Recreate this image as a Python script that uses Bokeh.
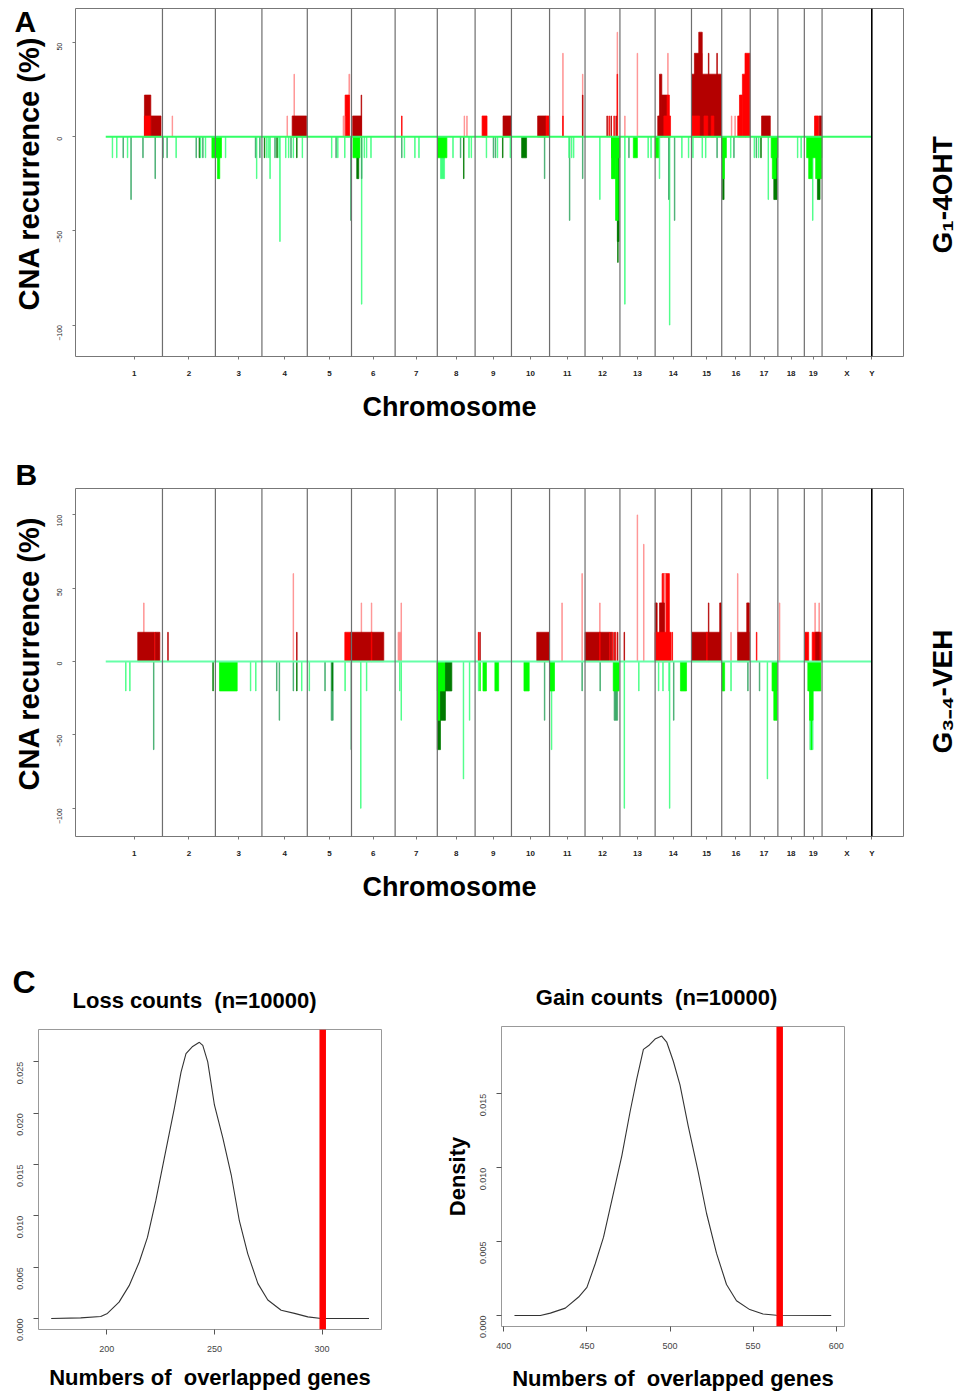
import math
from bokeh.plotting import figure
from bokeh.models import (FixedTicker, Span, Label, ColumnDataSource, Range1d,
                          NumeralTickFormatter, Title)
from bokeh.layouts import column, row
from bokeh.embed import file_html
from bokeh.resources import INLINE

# ---------------- data ----------------
CHROMS = ["1", "2", "3", "4", "5", "6", "7", "8", "9", "10", "11", "12", "13",
          "14", "15", "16", "17", "18", "19", "X", "Y"]
CHROM_LEN_MB = [195, 182, 160, 156, 152, 150, 145, 130, 125, 131, 122, 120, 121,
                125, 104, 98, 95, 91, 61, 171, 0.5]

# segments: (chrom, start Mb, end Mb, recurrence %, class)
A_GAINS = [
    ("1", 133, 155, 22.2, "D"), ("1", 133, 156, 11.1, "R"), ("1", 156, 190, 11.1, "D"),
    ("2", 33, 35, 11.1, "L"),
    ("4", 86, 88, 11.1, "L"), ("4", 110, 112, 33.3, "L"), ("4", 104, 154, 11.1, "D"),
    ("5", 123, 129, 11.1, "L"), ("5", 130, 145, 22.2, "R"), ("5", 143, 146, 33.3, "L"),
    ("6", 4, 34, 11.1, "D"), ("6", 33, 35, 22.2, "D"),
    ("7", 22, 24, 11.1, "R"),
    ("8", 92, 94, 11.1, "L"), ("8", 101, 103, 11.1, "L"),
    ("9", 24, 41, 11.1, "R"), ("9", 96, 124, 11.1, "D"),
    ("10", 90, 119, 11.1, "D"), ("10", 119, 131, 11.1, "R"),
    ("11", 45, 47, 44.4, "L"), ("11", 45, 47, 11.1, "R"), ("11", 113, 115, 33.3, "L"),
    ("11", 113, 115, 22.2, "D"),
    ("12", 75, 77, 11.1, "D"), ("12", 82, 84, 11.1, "R"), ("12", 89, 91, 11.1, "D"),
    ("12", 99, 101, 11.1, "R"), ("12", 106, 108, 11.1, "D"), ("12", 110, 112, 55.6, "L"),
    ("12", 110, 112, 33.3, "R"),
    ("13", 16, 18, 11.1, "L"), ("13", 59, 61, 44.4, "L"),
    ("14", 9, 26, 11.1, "D"), ("14", 15, 23, 33.3, "D"), ("14", 21, 41, 22.2, "D"),
    ("14", 30, 53, 11.1, "R"), ("14", 41, 49, 22.2, "R"), ("14", 43, 45, 44.4, "L"),
    ("15", 1, 103, 33.3, "D"), ("15", 10, 36, 44.4, "D"), ("15", 25, 37, 55.6, "D"),
    ("15", 58, 60, 44.4, "D"), ("15", 87, 89, 44.4, "D"), ("15", 1, 28, 11.1, "R"),
    ("15", 43, 56, 11.1, "R"), ("15", 68, 77, 11.1, "R"),
    ("16", 33, 35, 11.1, "L"), ("16", 45, 47, 11.1, "L"), ("16", 55, 63, 11.1, "R"),
    ("16", 61, 71, 22.2, "R"), ("16", 71, 83, 33.3, "R"), ("16", 80, 97, 44.4, "R"),
    ("17", 39, 69, 11.1, "D"),
    ("19", 35, 49, 11.1, "R"), ("19", 51, 60, 11.1, "D"),
]
A_LOSSES = [
    ("1", 22, 24, -11.1, "S"), ("1", 37, 39, -11.1, "S"), ("1", 59, 61, -11.1, "M"),
    ("1", 74, 76, -11.1, "S"), ("1", 86, 88, -33.3, "M"), ("1", 127, 129, -11.1, "M"),
    ("1", 169, 171, -22.2, "M"),
    ("2", 1, 3, -11.1, "M"), ("2", 15, 17, -11.1, "M"), ("2", 46, 48, -11.1, "S"),
    ("2", 115, 117, -11.1, "M"), ("2", 126, 128, -11.1, "K"), ("2", 130, 132, -11.1, "S"),
    ("2", 138, 140, -11.1, "M"), ("2", 147, 149, -11.1, "S"), ("2", 170, 182, -11.1, "G"),
    ("3", 0, 21, -11.1, "G"), ("3", 7, 15, -22.2, "G"), ("3", 34, 36, -11.1, "S"),
    ("3", 137, 139, -11.1, "M"), ("3", 141, 143, -22.2, "S"), ("3", 152, 154, -11.1, "M"),
    ("4", 8, 10, -11.1, "K"), ("4", 16, 18, -11.1, "S"), ("4", 23, 25, -11.1, "S"),
    ("4", 27, 29, -22.2, "S"), ("4", 44, 46, -11.1, "M"), ("4", 51, 53, -11.1, "K"),
    ("4", 58, 60, -11.1, "S"), ("4", 61, 63, -55.6, "S"), ("4", 81, 83, -11.1, "S"),
    ("4", 91, 93, -11.1, "S"), ("4", 99, 101, -11.1, "M"), ("4", 107, 109, -11.1, "S"),
    ("4", 119, 121, -11.1, "K"), ("4", 138, 140, -11.1, "S"),
    ("5", 83, 85, -11.1, "S"), ("5", 98, 100, -11.1, "M"), ("5", 104, 106, -11.1, "S"),
    ("5", 128, 130, -11.1, "S"), ("5", 149, 151, -44.4, "M"),
    ("6", 5, 29, -11.1, "G"), ("6", 18, 25, -22.2, "K"), ("6", 34, 36, -88.9, "S"),
    ("6", 34, 36, -22.2, "M"), ("6", 43, 45, -11.1, "S"), ("6", 51, 53, -11.1, "S"),
    ("6", 66, 68, -11.1, "S"),
    ("7", 22, 24, -11.1, "M"), ("7", 31, 33, -11.1, "S"), ("7", 67, 69, -11.1, "S"),
    ("7", 81, 83, -11.1, "S"),
    ("8", 1, 33, -11.1, "G"), ("8", 11, 25, -22.2, "S"), ("8", 53, 55, -11.1, "S"),
    ("8", 79, 81, -11.1, "M"), ("8", 90, 92, -22.2, "K"), ("8", 108, 110, -11.1, "S"),
    ("8", 116, 118, -11.1, "S"),
    ("9", 38, 40, -11.1, "S"), ("9", 62, 64, -11.1, "M"), ("9", 69, 71, -11.1, "M"),
    ("9", 76, 78, -11.1, "S"), ("9", 94, 96, -11.1, "K"), ("9", 120, 122, -11.1, "S"),
    ("10", 35, 52, -11.1, "K"), ("10", 113, 115, -22.2, "M"),
    ("11", 66, 68, -11.1, "S"), ("11", 75, 77, -11.1, "S"), ("11", 82, 84, -11.1, "S"),
    ("11", 68, 70, -44.4, "M"), ("11", 113, 115, -22.2, "M"),
    ("12", 50, 52, -33.3, "S"), ("12", 93, 95, -22.2, "S"), ("12", 91, 120, -11.1, "G"),
    ("12", 91, 105, -22.2, "G"), ("12", 105, 114, -44.4, "G"), ("12", 111, 117, -55.6, "K"),
    ("12", 112, 114, -66.7, "K"),
    ("13", 16, 18, -88.9, "S"), ("13", 30, 32, -11.1, "M"), ("13", 46, 60, -11.1, "G"),
    ("13", 96, 98, -11.1, "S"), ("13", 106, 108, -11.1, "S"),
    ("14", 0, 12, -11.1, "G"), ("14", 14, 16, -22.2, "S"), ("14", 46, 48, -33.3, "M"),
    ("14", 49, 51, -100.0, "S"), ("14", 66, 68, -44.4, "M"), ("14", 91, 93, -11.1, "S"),
    ("14", 114, 116, -11.1, "S"),
    ("15", 4, 6, -11.1, "S"), ("15", 36, 38, -11.1, "S"), ("15", 48, 50, -11.1, "S"),
    ("15", 87, 89, -11.1, "M"),
    ("16", 0, 16, -11.1, "G"), ("16", 2, 9, -22.2, "G"), ("16", 3, 8, -33.3, "K"),
    ("16", 30, 32, -11.1, "S"), ("16", 41, 43, -11.1, "M"),
    ("17", 13, 15, -11.1, "S"), ("17", 20, 22, -11.1, "M"), ("17", 28, 30, -11.1, "S"),
    ("17", 36, 38, -11.1, "K"), ("17", 61, 63, -33.3, "S"), ("17", 72, 95, -11.1, "G"),
    ("17", 76, 89, -22.2, "G"), ("17", 81, 92, -33.3, "K"),
    ("18", 67, 69, -11.1, "S"), ("18", 79, 81, -11.1, "S"),
    ("19", 8, 60, -11.1, "G"), ("19", 15, 27, -22.2, "G"), ("19", 28, 30, -44.4, "S"),
    ("19", 39, 60, -22.2, "G"), ("19", 45, 54, -33.3, "K"),
]
B_GAINS = [
    ("1", 110, 167, 20, "D"), ("1", 130, 132, 40, "L"), ("1", 168, 170, 20, "R"),
    ("1", 170, 186, 20, "D"),
    ("2", 18, 20, 20, "D"),
    ("4", 107, 109, 60, "L"), ("4", 119, 121, 20, "D"),
    ("5", 129, 149, 20, "R"), ("5", 149, 152, 20, "D"),
    ("6", 0, 111, 20, "D"), ("6", 68, 70, 20, "R"), ("6", 33, 35, 40, "L"), ("6", 68, 70, 40, "L"),
    ("7", 10, 21, 20, "L"), ("7", 20, 22, 40, "L"),
    ("9", 11, 13, 20, "R"), ("9", 16, 18, 20, "D"),
    ("10", 87, 129, 20, "D"),
    ("11", 42, 44, 40, "L"), ("11", 111, 113, 60, "L"),
    ("12", 0, 85, 20, "D"), ("12", 50, 52, 40, "L"), ("12", 50, 52, 20, "R"),
    ("12", 85, 87, 20, "R"), ("12", 88, 92, 20, "D"), ("12", 94, 96, 20, "R"),
    ("12", 99, 101, 20, "D"), ("12", 104, 106, 20, "R"), ("12", 111, 113, 20, "D"),
    ("13", 14, 16, 20, "D"), ("13", 59, 61, 100, "L"), ("13", 81, 83, 80, "L"),
    ("14", 0, 55, 20, "R"), ("14", 0, 7, 40, "D"), ("14", 15, 32, 40, "D"),
    ("14", 24, 49, 60, "R"), ("14", 31, 36, 60, "L"), ("14", 58, 60, 20, "R"),
    ("15", 1, 103, 20, "D"), ("15", 52, 54, 20, "R"), ("15", 58, 60, 40, "D"),
    ("15", 97, 103, 40, "D"),
    ("16", 31, 33, 20, "L"), ("16", 54, 56, 60, "L"), ("16", 55, 95, 20, "D"),
    ("16", 86, 95, 40, "D"),
    ("17", 21, 23, 20, "R"),
    ("18", 5, 7, 40, "L"),
    ("19", 2, 15, 20, "R"), ("19", 27, 60, 20, "R"), ("19", 39, 51, 20, "D"),
    ("19", 36, 38, 40, "L"), ("19", 50, 52, 40, "L"),
]
B_LOSSES = [
    ("1", 68, 70, -20, "S"), ("1", 82, 84, -20, "S"), ("1", 164, 166, -60, "M"),
    ("2", 173, 175, -20, "K"),
    ("3", 14, 75, -20, "G"), ("3", 120, 122, -20, "S"), ("3", 138, 140, -20, "S"),
    ("4", 50, 52, -20, "M"), ("4", 59, 61, -40, "M"), ("4", 107, 109, -20, "M"),
    ("4", 119, 121, -20, "K"), ("4", 136, 138, -20, "S"),
    ("5", 6, 8, -20, "S"), ("5", 60, 62, -20, "M"), ("5", 82, 89, -40, "M"),
    ("5", 85, 87, -20, "K"), ("5", 129, 131, -20, "S"), ("5", 150, 152, -60, "M"),
    ("6", 31, 33, -100, "S"), ("6", 51, 53, -20, "S"),
    ("7", 15, 17, -20, "S"), ("7", 20, 22, -40, "S"),
    ("8", 0, 11, -60, "K"), ("8", 0, 11, -40, "G"), ("8", 11, 28, -40, "K"),
    ("8", 0, 28, -20, "G"), ("8", 28, 50, -20, "K"), ("8", 89, 91, -80, "S"),
    ("8", 110, 112, -40, "S"),
    ("9", 11, 13, -20, "S"), ("9", 16, 18, -20, "G"), ("9", 27, 39, -20, "G"),
    ("9", 68, 81, -20, "G"),
    ("10", 43, 61, -20, "G"), ("10", 113, 115, -40, "M"),
    ("11", 0, 17, -20, "G"), ("11", 6, 8, -60, "S"), ("11", 111, 113, -20, "M"),
    ("12", 51, 53, -20, "M"), ("12", 97, 117, -20, "G"), ("12", 100, 112, -40, "M"),
    ("13", 14, 16, -100, "S"), ("13", 64, 66, -20, "S"),
    ("14", 11, 13, -20, "S"), ("14", 26, 28, -20, "S"), ("14", 47, 49, -20, "S"),
    ("14", 49, 51, -100, "S"), ("14", 63, 65, -40, "M"), ("14", 87, 108, -20, "G"),
    ("16", 1, 10, -20, "G"), ("16", 31, 33, -20, "S"), ("16", 89, 91, -20, "M"),
    ("17", 31, 33, -20, "M"), ("17", 58, 60, -80, "S"), ("17", 75, 92, -20, "G"),
    ("17", 81, 92, -40, "G"),
    ("19", 12, 57, -20, "G"), ("19", 18, 30, -40, "G"), ("19", 21, 27, -60, "G"),
    ("19", 19, 21, -60, "S"), ("19", 28, 30, -60, "S"),
]

A_YTICKS = [-100, -50, 0, 50]
B_YTICKS = [-100, -50, 0, 50, 100]

# permutation densities
LOSS_X = [174.2, 187.9, 197.2, 200.3, 205.7, 210.4, 215.1, 218.9, 222.8, 226.7, 231.4,
          234.5, 236.8, 239.9, 243.0, 244.6, 246.9, 250.0, 253.9, 257.8, 261.6, 265.5,
          270.2, 274.8, 281.0, 287.2, 293.4, 299.6, 321.8]
LOSS_DENS = [0.0, 0.00006, 0.0002, 0.0005, 0.0016, 0.0032, 0.0055, 0.0079, 0.0115, 0.0156,
             0.0205, 0.0240, 0.0258, 0.0265, 0.0269, 0.0266, 0.0250, 0.0208, 0.0176, 0.0140,
             0.0095, 0.0063, 0.0034, 0.0018, 0.0008, 0.0005, 0.00016, 0.0, 0.0]
LOSS_OBSERVED = 300.3
GAIN_X = [406.4, 422, 428, 437, 445, 450, 455, 460, 466, 471, 476, 480, 484, 487.6, 491,
          495, 498, 502, 506, 511, 517, 522, 528, 534, 540, 548, 556, 564, 597]
GAIN_DENS = [0.0, 0.0, 0.00016, 0.0005, 0.00125, 0.0019, 0.0035, 0.0053, 0.0083, 0.0108,
             0.0138, 0.0160, 0.0180, 0.0183, 0.0187, 0.0189, 0.0185, 0.0172, 0.0156, 0.0128,
             0.0097, 0.0069, 0.0042, 0.0021, 0.0010, 0.0004, 0.0001, 0.00002, 0.0]
GAIN_OBSERVED = 566
LOSS_XTICKS = [200, 250, 300]
LOSS_YTICKS = [0.0, 0.005, 0.010, 0.015, 0.020, 0.025]
GAIN_XTICKS = [400, 450, 500, 550, 600]
GAIN_YTICKS = [0.0, 0.005, 0.010, 0.015]

# ---------------- styling ----------------
CLASS_COLOR = {"R": "#FF0000", "D": "#B40000", "L": "#FF8C8C",
               "G": "#00FF00", "K": "#007A00", "M": "#3DAA6A", "S": "#40FF80"}
FONT = "Liberation Sans"
NBSP = "\u00a0"

OFFSET = {}
_acc = 0.0
for _c, _l in zip(CHROMS, CHROM_LEN_MB):
    OFFSET[_c] = _acc
    _acc += _l


def blank_fig(w, h, left=0):
    p = figure(width=w, height=h, x_range=Range1d(0, w), y_range=Range1d(0, h),
               output_backend="svg", toolbar_location=None,
               x_axis_location=None, y_axis_location=None,
               min_border_left=left, min_border_right=0,
               min_border_top=0, min_border_bottom=0)
    p.grid.visible = False
    p.outline_line_color = None
    return p


def text_fig(w, h, items):
    """Frameless figure holding horizontal text labels (pixel coordinates)."""
    p = blank_fig(w, h)
    for text, x, y, size, align in items:
        p.add_layout(Label(x=x, y=y, text=text, text_font=FONT, text_font_style="bold",
                           text_font_size=size, text_align=align, text_baseline="middle",
                           text_color="black"))
    return row(p)  # wrapped so that layout frame-alignment does not move it


def vtext_fig(w, h, text, size, offset, border, standoff=4):
    """Figure whose left-side title gives a bottom-to-top text."""
    p = blank_fig(w, h, left=border)
    p.add_layout(Title(text=text, align="left", offset=offset, standoff=standoff,
                       text_font=FONT, text_font_style="bold", text_font_size=size,
                       text_color="black"), "left")
    return row(p)


def cna_panel(segs, y_lo, y_hi, yticks, height, top, bottom, base_color):
    p = figure(width=860, height=height, x_range=Range1d(-104, 2743),
               y_range=Range1d(y_lo, y_hi), output_backend="svg", toolbar_location=None,
               min_border_left=27, min_border_right=5, min_border_top=top,
               min_border_bottom=bottom)
    order = sorted(range(len(segs)), key=lambda i: -abs(segs[i][3]))
    left, right, topv, col = [], [], [], []
    for i in order:
        c, s, e, v, k = segs[i]
        left.append(OFFSET[c] + s)
        right.append(OFFSET[c] + e)
        topv.append(v)
        col.append(CLASS_COLOR[k])
    src = ColumnDataSource(dict(left=left, right=right, top=topv, color=col))
    p.quad(left="left", right="right", bottom=0, top="top", fill_color="color",
           line_color="color", line_width=0.7, source=src)
    p.segment(x0=[0], y0=[0], x1=[OFFSET["Y"]], y1=[0], line_color=base_color, line_width=2)
    for c, l in zip(CHROMS[:-1], CHROM_LEN_MB[:-1]):
        end = OFFSET[c] + l
        last = c == "X"
        p.add_layout(Span(location=end, dimension="height",
                          line_color="black" if last else "#6e6e6e",
                          line_width=1.6 if last else 1.2))
    centers = [OFFSET[c] + l / 2 for c, l in zip(CHROMS, CHROM_LEN_MB)]
    p.xaxis.ticker = FixedTicker(ticks=centers)
    p.xaxis.major_label_overrides = {ctr: c for ctr, c in zip(centers, CHROMS)}
    p.yaxis.ticker = FixedTicker(ticks=yticks)
    p.yaxis.major_label_orientation = math.pi / 2
    for ax in (p.xaxis, p.yaxis):
        ax.axis_line_color = None
        ax.major_tick_in = 0
        ax.major_tick_out = 3
        ax.major_tick_line_color = "#777777"
        ax.minor_tick_line_color = None
        ax.major_label_text_font = FONT
        ax.major_label_text_color = "#222222"
    p.xaxis.major_label_text_font_size = "8px"
    p.xaxis.major_label_text_font_style = "bold"
    p.xaxis.major_label_standoff = 9
    p.yaxis.major_label_text_font_size = "7px"
    p.yaxis.major_label_standoff = 13
    p.add_layout(Title(text="Chromosome", align="left", offset=287, standoff=18,
                       text_font=FONT, text_font_style="bold", text_font_size="27px",
                       text_color="black"), "below")
    p.grid.visible = False
    p.outline_line_color = "#777777"
    p.outline_line_width = 1
    return p


# ---- panel A (page y 0..440) ----
pA = cna_panel(A_GAINS + A_LOSSES, -116.7, 68.2, A_YTICKS, 440, 8, 84, "#33FF66")
leftA = column(text_fig(48, 38, [("A", 14, 17.5, "30px", "left")]),
               vtext_fig(48, 402, "CNA recurrence (%)", "29px", 130, 46))
rightA = vtext_fig(51, 440, "G\u2081-4OHT", "28px", 187, 50, standoff=2)

# ---- panel B (page y 440..919) ----
pB = cna_panel(B_GAINS + B_LOSSES, -119.2, 118.0, B_YTICKS, 479, 48, 83, "#66FFA8")
leftB = column(text_fig(48, 52, [("B", 15, 18, "30px", "left")]),
               vtext_fig(48, 427, "CNA recurrence (%)", "29px", 129, 46))
rightB = vtext_fig(51, 479, "G\u2083\u208B\u2084-VEH", "28px", 166, 50, standoff=2)

# ---- panel C header (page y 919..1022) ----
headC = text_fig(959, 103, [("C", 12, 40.5, "32px", "left"),
                            ("Loss counts" + NBSP + " (n=10000)", 194, 22, "22px", "center"),
                            ("Gain counts" + NBSP + " (n=10000)", 656, 25, "22px", "center")])


def density_panel(xs, ds, observed, xr, yr, xticks, yticks, width, left, right, top,
                  bottom, xstand, ylabel):
    p = figure(width=width, height=371, x_range=Range1d(*xr), y_range=Range1d(*yr),
               output_backend="svg", toolbar_location=None, min_border_left=left,
               min_border_right=right, min_border_top=top, min_border_bottom=bottom)
    p.line(xs, ds, line_color="#333333", line_width=1.1)
    p.add_layout(Span(location=observed, dimension="height", line_color="#FF0000",
                      line_width=6.5))
    p.xaxis.ticker = FixedTicker(ticks=xticks)
    p.yaxis.ticker = FixedTicker(ticks=yticks)
    p.yaxis.formatter = NumeralTickFormatter(format="0.000")
    p.yaxis.major_label_orientation = math.pi / 2
    for ax in (p.xaxis, p.yaxis):
        ax.axis_line_color = None
        ax.major_tick_in = 0
        ax.major_tick_out = 5
        ax.major_tick_line_color = "#555555"
        ax.minor_tick_line_color = None
        ax.major_label_text_font = FONT
        ax.major_label_text_font_size = "9px"
        ax.major_label_text_color = "#444444"
    p.xaxis.major_label_standoff = 11
    p.yaxis.major_label_standoff = 13
    p.xaxis.axis_label = "Numbers of" + NBSP + " overlapped genes"
    p.xaxis.axis_label_standoff = xstand
    if ylabel:
        p.yaxis.axis_label = ylabel
        p.yaxis.axis_label_standoff = 5
    for ax in (p.xaxis, p.yaxis):
        ax.axis_label_text_font = FONT
        ax.axis_label_text_font_style = "bold"
        ax.axis_label_text_font_size = "22px"
        ax.axis_label_text_color = "black"
    p.grid.visible = False
    p.outline_line_color = "#999999"
    return p


pL = density_panel(LOSS_X, LOSS_DENS, LOSS_OBSERVED, (168.3, 327.6), (-0.00107, 0.02815),
                   LOSS_XTICKS, LOSS_YTICKS, 440, 38, 59, 7, 64, 10, None)
pR = density_panel(GAIN_X, GAIN_DENS, GAIN_OBSERVED, (398.6, 605.0), (-0.000744, 0.01955),
                   GAIN_XTICKS, GAIN_YTICKS, 519, 61, 115, 4, 67, 14, "Density")

layout = column(row(leftA, pA, rightA), row(leftB, pB, rightB), headC,
                row(column(pL), column(pR)))
open("out.html", "w").write(file_html(layout, INLINE))
